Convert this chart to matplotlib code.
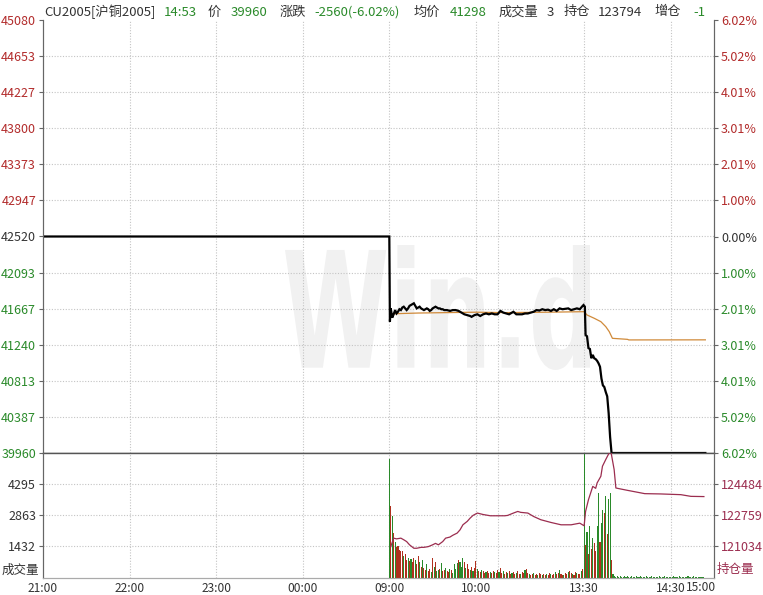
import matplotlib
matplotlib.use("Agg")
import matplotlib.pyplot as plt
from matplotlib.textpath import TextPath
from matplotlib.patches import PathPatch
from matplotlib.font_manager import FontProperties
from matplotlib.transforms import Affine2D

plt.rcParams['font.family'] = ['Noto Sans CJK SC', 'DejaVu Sans']

# ---------------- data ----------------
# x positions are trading-minute indices (0 = 21:00, 240 = 09:00, 315 = 10:15/10:30, 375 = 11:30/13:30, 465 = 15:00)
time_tick_pos = [0, 60, 120, 180, 240, 300, 375, 435, 465]
time_tick_labels = ['21:00', '22:00', '23:00', '00:00', '09:00', '10:00', '13:30', '14:30', '15:00']
extra_grid_pos = [315]

price_ticks = [45080, 44653, 44227, 43800, 43373, 42947, 42520, 42093, 41667, 41240, 40813, 40387, 39960]
pct_labels = ['6.02%', '5.02%', '4.01%', '3.01%', '2.01%', '1.00%', '0.00%',
              '1.00%', '2.01%', '3.01%', '4.01%', '5.02%', '6.02%']
prev_close = 42520

price_x = [0, 240, 240.4, 241, 242, 243, 244, 245, 246, 247, 248, 249, 250, 251, 252, 253, 254, 255, 256, 257,
           258, 259, 260, 261, 262, 263, 264, 265, 266, 267, 268, 269, 270, 271, 272, 273, 274, 275, 276,
           277, 278, 279, 280, 282, 284, 286, 288, 289, 290, 292, 294, 296, 297, 299, 301, 303, 305, 307,
           309, 311, 313, 315, 317, 319, 321, 323, 324, 326, 328, 330, 332, 334, 336, 338, 340, 342, 344,
           346, 348, 350, 352, 354, 356, 358, 360, 362, 364, 366, 368, 370, 372, 374, 374.6, 375.5,
           376, 377, 378, 379, 380, 381, 382, 383, 384, 385, 386, 387, 388, 389, 390, 391, 392, 393, 394, 459]
price_y = [42520, 42520, 41513, 41670, 41560, 41600, 41650, 41610, 41630, 41660, 41650, 41680, 41690, 41670,
           41650, 41670, 41700, 41710, 41720, 41730, 41700, 41670, 41680, 41690, 41670, 41660, 41650, 41660,
           41670, 41660, 41640, 41650, 41670, 41680, 41690, 41680, 41670, 41670, 41660, 41660, 41650,
           41650, 41650, 41640, 41650, 41650, 41640, 41630, 41620, 41600, 41590, 41580, 41570, 41590,
           41600, 41580, 41600, 41610, 41600, 41610, 41600, 41600, 41640, 41620, 41610, 41600, 41610,
           41630, 41600, 41600, 41600, 41610, 41610, 41620, 41630, 41650, 41645, 41660, 41650, 41655,
           41640, 41660, 41640, 41670, 41660, 41665, 41670, 41650, 41660, 41670, 41660, 41700, 41710, 41690,
           41355, 41340, 41200, 41190, 41080, 41120, 41080, 41070, 41050, 41020, 40980, 40840, 40760,
           40740, 40680, 40630, 40430, 40150, 39960, 39960]

avg_x = [241, 250, 260, 280, 300, 320, 350, 375, 377, 382, 386.6, 390, 392.4, 394.6, 405, 406, 459]
avg_y = [41605, 41610, 41615, 41620, 41625, 41620, 41625, 41631, 41592, 41553, 41513, 41454, 41395,
         41316, 41304, 41297, 41298]

vol_ticks = [1432, 2863, 4295]
vol_max = 5728
oi_ticks = [121034, 122759, 124484]
oi_range = (119309, 126209)

vol_morning = [5460, 3270, 2810, 2040, 1650, 1420, 1450, 1250, 1200, 1230,
               1000, 1100, 800, 900, 750, 850, 700, 900, 800, 600,
               1000, 700, 500, 800, 450, 350, 600, 300, 400, 250,
               900, 500, 700, 300, 350, 400, 650, 300, 350, 450,
               300, 250, 400, 350, 200, 600, 400, 650, 800, 700,
               500, 900, 700, 450, 600, 400, 350, 500, 300, 450,
               750, 400, 300, 250, 350, 300, 200, 250, 300, 200,
               250, 200, 300, 250, 200,
               350, 250, 450, 200, 300, 150, 250, 200, 300, 150,
               200, 250, 150, 200, 300, 180, 150, 250, 200, 350,
               400, 200, 150, 100, 150, 200, 120, 150, 100, 200,
               150, 120, 180, 100, 150, 120, 200, 150, 100, 150,
               250, 150, 200, 350, 150, 120, 100, 200, 150, 250,
               300, 200, 150, 120, 250, 200, 180, 150, 300, 400]
dir_morning = ("GRGRGRRRRR" "GRRGRGRRGR" "RGRGRRGRRG" "RGRGGRGRRG" "RRGRGGGGRG"
               "GGRGRRGRGR" "RGRRGRRGRR" "GRRGR"
               "RGRRGRRGRR" "GRRGRRGRRG" "RRGRRGRRGR" "RGRRGRRGRR" "GRRGRRGRRG" "RRGRRGRRGR")
vol_afternoon = [5700, 1500, 2100, 1100, 2350, 1300, 1800, 1600, 1200, 2350,
                 3890, 1650, 2500, 3100, 2970, 3730, 2000, 3600, 3890, 800,
                 150, 60, 40, 50, 30, 60, 40, 30, 50, 40,
                 60, 30, 40, 50, 30, 40, 60, 30, 40, 50,
                 30, 40, 30, 50, 40, 30, 40, 50, 30, 40,
                 30, 40, 50, 30, 40, 30, 50, 40, 30, 40,
                 30, 40, 50, 30, 40, 30, 50, 40, 30, 40,
                 30, 40, 50, 30, 40, 30, 50, 40, 30, 40,
                 30, 40, 30, 40]
dir_afternoon = ("GRGRGRGRRG" "GRGGRGRGGR" + "G" * 64)

oi_x = [241, 243, 245, 248, 250, 252, 254, 257, 259, 262, 264, 267, 270, 272, 274, 277, 279, 282, 284,
        287, 289, 291, 294, 296, 298, 301, 305, 310, 315, 320, 322, 326, 329, 331, 336, 340, 345, 352,
        359, 366, 372, 375, 376, 378, 381, 383, 384, 386.6, 387.7, 390, 392.4, 393.5, 395.8, 397, 400,
        405, 417, 428, 442, 449, 458]
oi_y = [121020, 121490, 121450, 121490, 121400, 121300, 121120, 120930, 120930, 120980, 120980, 121020,
        121120, 121200, 121120, 121300, 121490, 121550, 121650, 121770, 121950, 122230, 122420, 122600,
        122750, 122880, 122800, 122730, 122730, 122730, 122750, 122880, 122970, 122920, 122880, 122690,
        122510, 122360, 122230, 122230, 122320, 122175, 122970, 123620, 124360, 124250, 124550, 124920,
        125475, 125850, 126220, 126310, 125290, 124270, 124220, 124140, 123956, 123940, 123900, 123806,
        123794]

title_parts = [('CU2005[沪铜2005]', 'k'), ('14:53', 'g'), ('价', 'k'), ('39960', 'g'), ('涨跌', 'k'),
               ('-2560(-6.02%)', 'g'), ('均价', 'k'), ('41298', 'g'), ('成交量', 'k'), ('3', 'k'),
               ('持仓', 'k'), ('123794', 'k'), ('增仓', 'k'), ('-1', 'g')]

# ---------------- style ----------------
RED = '#b22b2b'
GREEN = '#2a8a2a'
DARK = '#333333'
OI_COLOR = '#9b2d4f'
GRID = '#c4c4c4'
BAR_RED = '#b0301e'
BAR_GREEN = '#2a8a2a'
FS = 9

W, H = 763, 595
fig = plt.figure(figsize=(W / 100, H / 100), dpi=100)
left_px, right_px, top_px, mid_px, bot_px = 43, 714, 20, 453, 577.5
ax = fig.add_axes([left_px / W, 1 - mid_px / H, (right_px - left_px) / W, (mid_px - top_px) / H])
axv = fig.add_axes([left_px / W, 1 - bot_px / H, (right_px - left_px) / W, (bot_px - mid_px) / H], sharex=ax)

n_min = 465
ax.set_xlim(0, n_min)
ax.set_ylim(price_ticks[-1], price_ticks[0])

# watermark (condensed logo text), box approx x 285..590 px, y 245..370 px from top
wm = TextPath((0, 0), 'Win.d', size=1, prop=FontProperties(family='DejaVu Sans', weight='bold'))
ext = wm.get_extents()
bx0, bx1, by0, by1 = 285, 590, H - 370, H - 245
tr = (Affine2D().translate(-ext.x0, -ext.y0)
      .scale((bx1 - bx0) / ext.width, (by1 - by0) / ext.height)
      .translate(bx0, by0))
ax.add_patch(PathPatch(wm, transform=tr, facecolor='#f1f1f1', edgecolor='none', zorder=0.5))

grid_kw = dict(color=GRID, lw=0.8, linestyle=(0, (1, 1.5)), zorder=1)
for p in price_ticks[1:-1]:
    ax.axhline(p, **grid_kw)
for t in time_tick_pos[1:-1] + extra_grid_pos:
    ax.axvline(t, **grid_kw)
    axv.axvline(t, **grid_kw)
for v in vol_ticks:
    axv.axhline(v, **grid_kw)

ax.plot(avg_x, avg_y, color='#d08a3a', lw=0.9, zorder=3)
ax.plot(price_x, price_y, color='black', lw=1.6, zorder=4, solid_joinstyle='miter')

# left price ticks
ax.set_yticks(price_ticks)
ax.set_yticklabels([str(p) for p in price_ticks])
for lab, p in zip(ax.get_yticklabels(), price_ticks):
    lab.set_color(RED if p > prev_close else (GREEN if p < prev_close else DARK))
ax.tick_params(axis='y', length=3, width=0.8, color='#666666', labelsize=FS, pad=2)
ax.tick_params(axis='x', length=0, labelbottom=False)

# right percent ticks
axr = ax.twinx()
axr.set_ylim(ax.get_ylim())
axr.set_yticks(price_ticks)
axr.set_yticklabels(pct_labels)
for lab, p in zip(axr.get_yticklabels(), price_ticks):
    lab.set_color(RED if p > prev_close else (GREEN if p < prev_close else DARK))
axr.tick_params(axis='y', length=3, width=0.8, color='#666666', labelsize=FS, pad=2)

for a in (ax, axr):
    a.spines['top'].set_visible(False)
    a.spines['left'].set_color('#666666')
    a.spines['right'].set_color('#666666')
    a.spines['bottom'].set_color('#555555')
    a.spines['bottom'].set_linewidth(1.0)

# volume
vol = vol_morning + vol_afternoon
dirs = dir_morning + dir_afternoon
vx = list(range(240, 240 + len(vol_morning))) + list(range(375, 375 + len(vol_afternoon)))
vcol = [BAR_GREEN if d == 'G' else BAR_RED for d in dirs[:len(vol)]]
axv.bar(vx, vol, width=0.75, color=vcol, linewidth=0, zorder=3)
axv.set_ylim(0, vol_max)
axv.set_yticks(vol_ticks)
axv.set_yticklabels([str(v) for v in vol_ticks])
axv.tick_params(axis='y', length=3, width=0.8, color='#666666', labelsize=FS, labelcolor=DARK, pad=2)
fig.text(2 / W, 1 - 570 / H, '成交量', ha='left', va='center', fontsize=FS, color=DARK)

# time axis labels (last one kept inside the right edge)
axv.set_xticks(time_tick_pos[:-1])
axv.set_xticklabels(time_tick_labels[:-1])
axv.tick_params(axis='x', length=0, labelsize=8.6, labelcolor=DARK, pad=3)
axv.annotate(time_tick_labels[-1], xy=(time_tick_pos[-1], 0), xycoords=('data', 'axes fraction'),
             xytext=(2, -10), textcoords='offset pixels', ha='right', va='center',
             fontsize=8.6, color=DARK, annotation_clip=False)

axo = axv.twinx()
axo.plot(oi_x, oi_y, color=OI_COLOR, lw=0.9, zorder=4)
axo.set_ylim(*oi_range)
axo.set_yticks(oi_ticks)
axo.set_yticklabels([str(v) for v in oi_ticks])
axo.tick_params(axis='y', length=3, width=0.8, color='#666666', labelsize=FS, labelcolor=OI_COLOR, pad=2)
fig.text(717 / W, 1 - 570 / H, '持仓量', ha='left', va='center', fontsize=FS, color=OI_COLOR)

for a in (axv, axo):
    a.spines['top'].set_visible(False)
    a.spines['left'].set_color('#666666')
    a.spines['right'].set_color('#666666')
    a.spines['bottom'].set_color('#aaaaaa')

# title line
title_x = [44, 164, 208, 231, 280, 314, 414, 450, 499, 547, 564, 598, 654, 693]
for (txt, c), xp in zip(title_parts, title_x):
    fig.text(xp / W, 1 - 12 / H, txt, ha='left', va='center', fontsize=9.5,
             color=GREEN if c == 'g' else DARK)

fig.savefig('out.png', dpi=100)
